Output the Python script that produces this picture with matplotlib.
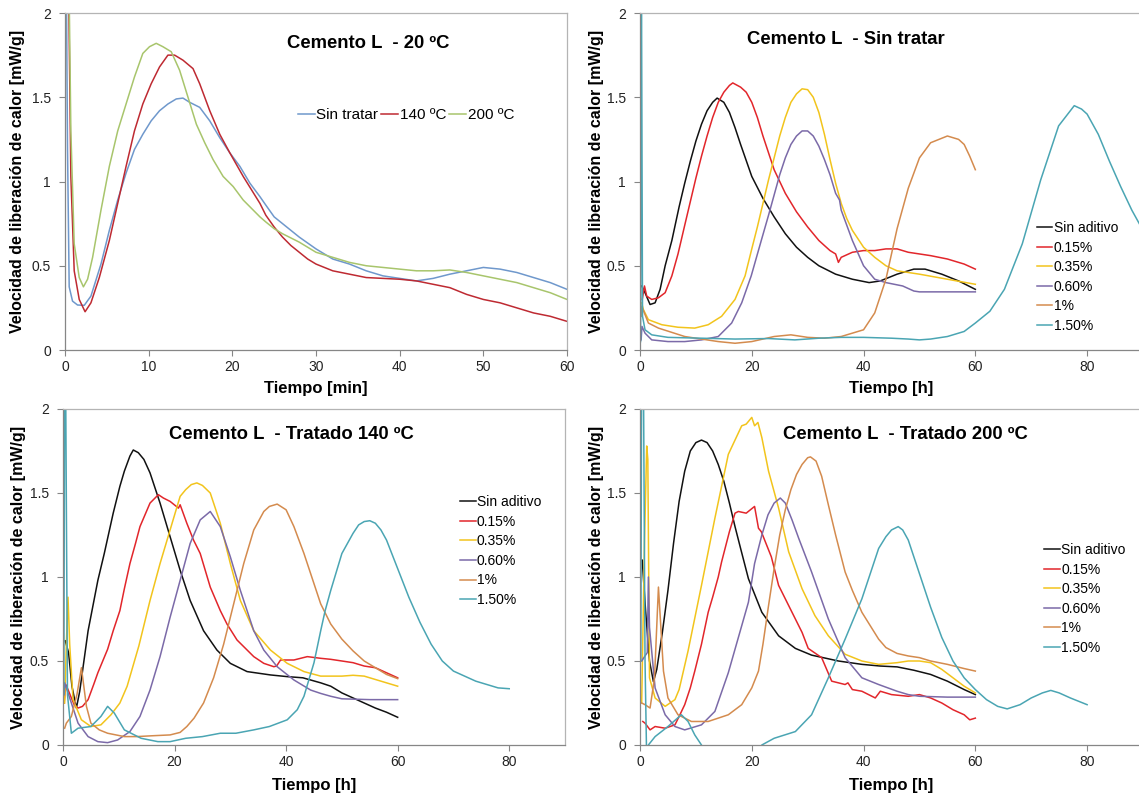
import matplotlib
matplotlib.use("Agg")
import matplotlib.pyplot as plt

plt.rcParams["font.family"] = ["Liberation Sans", "DejaVu Sans"]

# ── Data ────────────────────────────────────────────────────────────────────

YLABEL = "Velocidad de liberación de calor [mW/g]"
LABELS_DOSE = ["Sin aditivo", "0.15%", "0.35%", "0.60%", "1%", "1.50%"]
COLORS_DOSE = ["#111111", "#e2262b", "#f2c41c", "#7b6aa8", "#d48b4e", "#4aa5b3"]

# Panel 1: Cemento L - 20 ºC (tiempo en min)
P1_LABELS = ["Sin tratar", "140 ºC", "200 ºC"]
P1_COLORS = ["#6f98cc", "#be2a32", "#a8c56c"]
p1_sin_x = [0.15, 0.3, 0.5, 0.9, 1.5, 2.3, 3.1, 4.3, 5.3, 6.3, 7.3, 8.3, 9.3, 10.3, 11.3, 12.3,
            13.3, 14.1, 14.9, 16.1, 17.3, 18.5, 19.7, 20.9, 22.1, 23.3, 24, 25, 26, 28, 30, 32,
            34, 36, 38, 40, 42, 44, 46, 48, 50, 52, 54, 56, 58, 60]
p1_sin_y = [2.3, 1.2, 0.375, 0.29, 0.267, 0.265, 0.32, 0.51, 0.71, 0.89, 1.05, 1.19, 1.28, 1.36,
            1.42, 1.46, 1.49, 1.495, 1.47, 1.44, 1.36, 1.26, 1.17, 1.09, 0.99, 0.91, 0.86, 0.79,
            0.75, 0.67, 0.60, 0.54, 0.51, 0.47, 0.44, 0.425, 0.41, 0.425, 0.45, 0.47, 0.49, 0.48,
            0.46, 0.43, 0.40, 0.36]
p1_140_x = [0.2, 0.4, 0.7, 1.1, 1.7, 2.4, 3.1, 4.1, 5.3, 6.3, 7.3, 8.3, 9.3, 10.3, 11.3, 12.3,
            13.1, 14.1, 15.3, 16.1, 17.3, 18.5, 19.7, 21.3, 23.3, 24, 25, 26, 27, 28, 29, 30,
            32, 34, 36, 38, 40, 42, 44, 46, 48, 50, 52, 54, 56, 58, 60]
p1_140_y = [2.3, 2.3, 1.03, 0.47, 0.30, 0.227, 0.28, 0.43, 0.65, 0.87, 1.09, 1.30, 1.46, 1.58,
            1.68, 1.75, 1.75, 1.72, 1.67, 1.58, 1.42, 1.28, 1.17, 1.03, 0.87, 0.80, 0.73, 0.67,
            0.62, 0.58, 0.54, 0.51, 0.47, 0.45, 0.43, 0.425, 0.42, 0.41, 0.39, 0.37, 0.33, 0.30,
            0.28, 0.25, 0.22, 0.20, 0.17]
p1_200_x = [0, 0.05, 0.45, 0.7, 1.1, 1.7, 2.2, 2.7, 3.3, 4.3, 5.3, 6.3, 7.3, 8.3, 9.3, 10.1, 10.9,
            11.7, 12.7, 13.7, 14.7, 15.7, 16.7, 17.7, 18.9, 20.1, 21.3, 23.3, 24, 25, 26, 28, 30,
            32, 34, 36, 38, 40, 42, 44, 46, 48, 50, 52, 54, 56, 58, 60]
p1_200_y = [0, 2.3, 2.3, 1.3, 0.63, 0.43, 0.375, 0.42, 0.55, 0.83, 1.09, 1.30, 1.46, 1.62, 1.76,
            1.80, 1.82, 1.80, 1.77, 1.66, 1.50, 1.34, 1.23, 1.13, 1.03, 0.97, 0.89, 0.79, 0.76,
            0.72, 0.69, 0.64, 0.58, 0.55, 0.52, 0.50, 0.49, 0.48, 0.47, 0.47, 0.475, 0.46, 0.44,
            0.42, 0.40, 0.37, 0.34, 0.30]

# Panel 2: Cemento L - Sin tratar (tiempo en h)
p2_sin_x = [0.3, 0.9, 1.8, 2.7, 3.6, 4.5, 5.7, 7, 8, 9, 10, 11, 12, 13, 13.8, 15, 16, 17, 18, 20,
            22, 24, 26, 28, 30, 32, 35, 38, 41, 43, 46, 49, 51, 54, 57, 60]
p2_sin_y = [0.38, 0.34, 0.27, 0.28, 0.36, 0.50, 0.65, 0.85, 0.99, 1.12, 1.24, 1.34, 1.42, 1.47,
            1.495, 1.47, 1.41, 1.32, 1.22, 1.03, 0.90, 0.79, 0.69, 0.61, 0.55, 0.50, 0.45, 0.42,
            0.40, 0.41, 0.45, 0.48, 0.48, 0.45, 0.41, 0.36]
p2_015_x = [0.4, 0.8, 1.2, 2.1, 3.3, 4.5, 5.7, 6.8, 8, 9, 10, 11, 12, 13, 14, 15, 16, 16.6, 18, 19,
            20, 21, 22, 23, 24, 25, 26, 28, 30, 32, 34, 35, 35.5, 36, 38, 40, 42, 44, 46, 48, 50,
            52, 55, 58, 60]
p2_015_y = [0.30, 0.38, 0.32, 0.30, 0.31, 0.34, 0.44, 0.57, 0.74, 0.88, 1.02, 1.15, 1.27, 1.38,
            1.47, 1.53, 1.57, 1.585, 1.56, 1.53, 1.47, 1.38, 1.27, 1.17, 1.07, 1.00, 0.93, 0.82,
            0.73, 0.65, 0.59, 0.57, 0.52, 0.55, 0.58, 0.59, 0.59, 0.60, 0.60, 0.58, 0.57, 0.56,
            0.54, 0.51, 0.48]
p2_035_x = [0.3, 0.6, 1.5, 3.9, 6.8, 9.8, 12.2, 14.6, 17, 18.8, 20, 21, 22, 23, 24, 25, 26, 27,
            28, 29, 30, 31, 32, 33, 34, 35, 36, 37, 38, 40, 42, 44, 46, 50, 55, 60]
p2_035_y = [0.28, 0.24, 0.18, 0.15, 0.135, 0.13, 0.15, 0.20, 0.30, 0.44, 0.60, 0.73, 0.87, 1.01,
            1.14, 1.27, 1.38, 1.47, 1.52, 1.55, 1.545, 1.50, 1.41, 1.28, 1.13, 0.99, 0.87, 0.78,
            0.71, 0.61, 0.55, 0.50, 0.47, 0.45, 0.42, 0.39]
p2_060_x = [0.2, 0.35, 0.9, 2.1, 5, 8, 11, 14, 16.4, 18.2, 19.9, 21.7, 23, 24, 25, 26, 27, 28, 29,
            30, 31, 32, 33, 34, 35, 35.7, 36, 38, 40, 42, 44, 47, 49, 50, 55, 60]
p2_060_y = [0.06, 0.14, 0.10, 0.06, 0.05, 0.05, 0.06, 0.08, 0.16, 0.28, 0.44, 0.65, 0.80, 0.92,
            1.04, 1.14, 1.22, 1.27, 1.30, 1.30, 1.27, 1.21, 1.13, 1.04, 0.93, 0.89, 0.83, 0.65,
            0.50, 0.42, 0.40, 0.38, 0.35, 0.345, 0.345, 0.345]
p2_1_x = [0.2, 0.3, 1.5, 3.3, 8, 14, 17, 20, 24, 27, 30, 33, 36, 38, 40, 42, 44, 46, 48, 50, 52,
          55, 57, 58, 59, 60]
p2_1_y = [0.20, 0.26, 0.16, 0.13, 0.08, 0.05, 0.04, 0.05, 0.08, 0.09, 0.075, 0.07, 0.08, 0.10,
          0.12, 0.22, 0.42, 0.72, 0.96, 1.14, 1.23, 1.27, 1.25, 1.22, 1.15, 1.07]
p2_150_x = [0.1, 0.25, 0.45, 0.9, 2.1, 5, 11, 17, 23, 27.7, 32, 36, 40, 45, 48, 50, 52, 55, 58,
            60, 62.6, 65.2, 68.4, 71.7, 74.9, 77.7, 79, 80, 82, 84, 86, 88, 90]
p2_150_y = [0.05, 2.3, 0.2, 0.12, 0.09, 0.075, 0.07, 0.065, 0.068, 0.06, 0.07, 0.075, 0.075,
            0.07, 0.065, 0.06, 0.065, 0.08, 0.11, 0.16, 0.23, 0.36, 0.63, 1.01, 1.33, 1.45, 1.43,
            1.40, 1.28, 1.12, 0.97, 0.83, 0.71]

# Panel 3: Cemento L - Tratado 140 ºC
p3_sin_x = [0.4, 1.0, 1.6, 2.4, 3, 4.5, 6.25, 7.4, 8, 9, 10.2, 11, 12, 12.6, 13.5, 14.5, 15.6,
            17.4, 19.2, 21, 22.8, 25.2, 27.6, 30, 33, 37.2, 40.2, 43, 46.2, 48, 50, 52, 54, 56,
            58, 60]
p3_sin_y = [0.62, 0.55, 0.35, 0.22, 0.32, 0.68, 0.98, 1.14, 1.23, 1.38, 1.54, 1.63, 1.72, 1.756,
            1.74, 1.70, 1.62, 1.44, 1.24, 1.04, 0.86, 0.68, 0.565, 0.486, 0.437, 0.417, 0.407,
            0.40, 0.37, 0.35, 0.31, 0.28, 0.25, 0.22, 0.195, 0.165]
p3_015_x = [0.2, 0.5, 0.9, 1.5, 2, 2.7, 3.5, 4.5, 5.5, 6.25, 7, 8, 9, 10.2, 11, 12, 13, 13.8,
            15.6, 17.1, 18, 19.2, 20.7, 21, 22.2, 23.4, 24.6, 26.4, 28.2, 29.4, 31.2, 34.2, 36,
            37.8, 38.3, 39, 41.4, 43.8, 46.2, 48, 50, 52, 54, 56, 58, 60]
p3_015_y = [0.25, 0.36, 0.33, 0.28, 0.24, 0.22, 0.23, 0.27, 0.36, 0.43, 0.49, 0.57, 0.68, 0.80,
            0.93, 1.08, 1.20, 1.30, 1.44, 1.49, 1.47, 1.45, 1.41, 1.43, 1.32, 1.22, 1.14, 0.94,
            0.80, 0.72, 0.625, 0.526, 0.486, 0.466, 0.47, 0.506, 0.506, 0.526, 0.516, 0.51,
            0.50, 0.49, 0.47, 0.46, 0.43, 0.40]
p3_035_x = [0.3, 0.6, 0.9, 1.2, 1.8, 3.3, 5, 6.8, 8.6, 10.2, 11.5, 13.6, 15.6, 17.4, 19.2, 21, 22,
            23, 24, 25, 26.4, 28.2, 30, 31.8, 34.2, 37.2, 40.2, 43.2, 46.2, 48, 50, 52, 54, 56,
            58, 60]
p3_035_y = [0.25, 0.6, 0.88, 0.6, 0.27, 0.15, 0.11, 0.12, 0.18, 0.25, 0.35, 0.59, 0.86, 1.08,
            1.28, 1.48, 1.52, 1.55, 1.56, 1.545, 1.50, 1.32, 1.08, 0.86, 0.68, 0.565, 0.486,
            0.437, 0.41, 0.41, 0.41, 0.415, 0.41, 0.39, 0.37, 0.35]
p3_060_x = [0.2, 0.3, 1.5, 2.7, 4.5, 6.25, 8, 9.8, 12, 13.8, 15.6, 17.4, 19.2, 21, 22.8, 24.6,
            26.4, 28.2, 30, 31.8, 34.2, 36, 38.4, 41.4, 44.4, 46.2, 48, 50, 55, 60]
p3_060_y = [0.30, 0.37, 0.25, 0.13, 0.05, 0.02, 0.014, 0.03, 0.08, 0.17, 0.327, 0.526, 0.76,
            0.98, 1.20, 1.34, 1.39, 1.30, 1.12, 0.92, 0.68, 0.565, 0.466, 0.387, 0.327, 0.307,
            0.29, 0.275, 0.27, 0.27]
p3_1_x = [0.3, 0.6, 1.5, 2.5, 3.3, 4.2, 5, 6.5, 8, 11, 13.2, 16, 19.2, 21, 22.2, 23.5, 25.2, 27,
          28.8, 30.6, 32.4, 34.2, 36, 37, 38.4, 40, 41.4, 43.2, 45, 46.2, 48, 50, 52, 54, 56,
          58, 60]
p3_1_y = [0.10, 0.13, 0.17, 0.30, 0.46, 0.23, 0.13, 0.09, 0.07, 0.05, 0.05, 0.055, 0.06, 0.075,
          0.11, 0.16, 0.25, 0.40, 0.60, 0.84, 1.08, 1.28, 1.39, 1.42, 1.434, 1.40, 1.30, 1.14,
          0.96, 0.84, 0.72, 0.63, 0.56, 0.50, 0.46, 0.42, 0.395]
p3_150_x = [0.15, 0.3, 0.45, 0.8, 1.5, 2.7, 5, 6.8, 8, 9.2, 11, 14, 17, 19.2, 22, 25, 28.2, 31,
            34.2, 37, 40.2, 42, 43.2, 45, 46.2, 47, 48, 50, 52, 53, 54, 55, 56, 57, 58, 60, 62,
            64, 66, 68, 70, 72, 74, 75, 78, 80]
p3_150_y = [0.30, 2.3, 2.3, 0.30, 0.07, 0.10, 0.11, 0.17, 0.23, 0.19, 0.09, 0.04, 0.02, 0.02,
            0.04, 0.05, 0.07, 0.07, 0.09, 0.11, 0.15, 0.21, 0.29, 0.49, 0.68, 0.80, 0.92, 1.14,
            1.26, 1.31, 1.33, 1.335, 1.32, 1.28, 1.22, 1.05, 0.88, 0.73, 0.60, 0.50, 0.44, 0.41,
            0.38, 0.37, 0.34, 0.335]

# Panel 4: Cemento L - Tratado 200 ºC
p4_sin_x = [0.4, 1.0, 1.7, 2.4, 3, 4, 5, 6, 7, 8, 9, 10, 11, 12, 13, 14, 15, 16, 17, 18, 19.4,
            21.8, 24.8, 27.8, 30.7, 35.5, 39.7, 43, 46, 49, 52, 55, 58, 60]
p4_sin_y = [1.10, 0.80, 0.50, 0.377, 0.45, 0.67, 0.92, 1.20, 1.45, 1.63, 1.75, 1.80, 1.815,
            1.80, 1.75, 1.67, 1.57, 1.44, 1.30, 1.17, 0.99, 0.79, 0.65, 0.575, 0.535, 0.50, 0.48,
            0.47, 0.465, 0.445, 0.42, 0.38, 0.33, 0.30]
p4_015_x = [0.5, 0.9, 1.8, 2.7, 4.5, 6.25, 7, 8, 9, 9.8, 11, 12.2, 13, 14, 14.6, 16, 17, 17.6,
            19, 20.5, 21.2, 21.7, 23.5, 24.8, 26.6, 29, 30.1, 32.5, 34.3, 36.7, 37.2, 38, 39.7,
            42.1, 43, 45, 48, 50, 52, 54, 56, 58, 59, 60]
p4_015_y = [0.14, 0.13, 0.09, 0.11, 0.10, 0.12, 0.17, 0.24, 0.34, 0.44, 0.60, 0.79, 0.88, 1.00,
            1.09, 1.27, 1.38, 1.39, 1.38, 1.42, 1.29, 1.27, 1.12, 0.95, 0.83, 0.67, 0.575, 0.52,
            0.38, 0.36, 0.37, 0.33, 0.32, 0.28, 0.32, 0.30, 0.29, 0.30, 0.28, 0.25, 0.21, 0.18,
            0.15, 0.16]
p4_035_x = [0.3, 0.8, 1.2, 1.4, 1.7, 2.7, 4.5, 6.25, 7, 8.6, 11, 13.4, 15.8, 18.2, 19, 20, 20.5,
            21.1, 21.8, 23, 24.8, 26.6, 29, 31.3, 33.7, 36.7, 39.7, 42.7, 46, 48, 50, 52, 54, 56,
            58, 60]
p4_035_y = [0.25, 1.2, 1.78, 1.7, 0.4, 0.28, 0.23, 0.27, 0.33, 0.56, 0.95, 1.35, 1.73, 1.90,
            1.91, 1.95, 1.90, 1.92, 1.83, 1.63, 1.41, 1.15, 0.93, 0.77, 0.65, 0.54, 0.50, 0.48,
            0.49, 0.50, 0.50, 0.49, 0.45, 0.40, 0.35, 0.31]
p4_060_x = [0.3, 1.3, 1.5, 1.7, 2.7, 4.5, 6.25, 8, 11, 13.4, 15.8, 18.2, 19.4, 20.5, 21.8, 22.9,
            24, 25.1, 26, 27.2, 28.4, 30.7, 33.7, 36.7, 39.7, 42.7, 46, 48, 50, 55, 60]
p4_060_y = [0.50, 0.55, 1.0, 0.70, 0.34, 0.18, 0.11, 0.09, 0.12, 0.20, 0.43, 0.71, 0.85, 1.08,
            1.25, 1.37, 1.44, 1.47, 1.44, 1.34, 1.23, 1.03, 0.75, 0.52, 0.40, 0.36, 0.32, 0.30,
            0.29, 0.285, 0.285]
p4_1_x = [0.3, 0.9, 1.8, 2.6, 3.3, 4.2, 5, 6.8, 9.2, 12.2, 15.8, 18.2, 20, 21.2, 22, 23, 24, 25,
          26, 27, 28, 29, 30, 30.5, 31.5, 32.5, 33.7, 35, 36.7, 38, 39.7, 42.7, 44, 46, 48, 50,
          52, 55, 58, 60]
p4_1_y = [0.25, 0.24, 0.22, 0.40, 0.94, 0.44, 0.28, 0.18, 0.14, 0.14, 0.18, 0.24, 0.34, 0.44,
          0.60, 0.83, 1.05, 1.25, 1.40, 1.52, 1.61, 1.67, 1.71, 1.715, 1.69, 1.60, 1.43, 1.25,
          1.03, 0.92, 0.79, 0.63, 0.58, 0.545, 0.53, 0.52, 0.50, 0.48, 0.455, 0.44]
p4_150_x = [0.15, 0.3, 0.6, 0.9, 1.2, 1.5, 2.7, 5, 7.4, 8.6, 9.8, 11, 12, 20, 21.8, 24, 27.8,
            30.7, 33.7, 36.7, 39.7, 42.7, 44, 45, 46.2, 47, 48, 49, 50, 52, 54, 56, 58, 60, 62,
            64, 65.7, 68, 70, 72, 73.5, 75, 77, 80]
p4_150_y = [0.5, 2.3, 2.3, 0.5, -0.1, 0.0, 0.05, 0.11, 0.18, 0.14, 0.06, 0.0, -0.1, -0.1, 0.0,
            0.04, 0.08, 0.18, 0.40, 0.63, 0.87, 1.17, 1.24, 1.28, 1.30, 1.28, 1.22, 1.12, 1.02,
            0.82, 0.64, 0.50, 0.40, 0.33, 0.27, 0.23, 0.215, 0.24, 0.28, 0.31, 0.325, 0.31, 0.28,
            0.24]


# ── Layout (pixel boxes from the reference, 1139 x 798) ──────────────────────

W, H = 1139, 798


def box(left, top, right, bottom):
    return [left / W, 1 - bottom / H, (right - left) / W, (bottom - top) / H]


def style(ax, xmax, xstep, xlabel, ylab_x, xlab_y):
    ax.set_xlim(0, xmax)
    ax.set_ylim(0, 2)
    ax.set_xticks(range(0, xmax + 1 if xmax == 60 else 81, xstep))
    ax.set_yticks([0, 0.5, 1, 1.5, 2])
    ax.set_yticklabels(["0", "0.5", "1", "1.5", "2"])
    for side in ("left", "bottom"):
        ax.spines[side].set_color("#868686")
        ax.spines[side].set_linewidth(0.9)
    for side in ("top", "right"):
        ax.spines[side].set_color("#b4b4b4")
        ax.spines[side].set_linewidth(0.9)
    ax.tick_params(axis="both", direction="out", length=4, width=0.8,
                   color="#868686", labelsize=10, labelcolor="#222222")
    ax.tick_params(axis="y", pad=6)
    ax.tick_params(axis="x", pad=3.5)
    ax.set_ylabel(YLABEL, fontsize=11.5, fontweight="bold", va="center")
    ax.set_xlabel(xlabel, fontsize=12, fontweight="bold", va="center")
    ax.yaxis.set_label_coords(ylab_x, 0.5)
    ax.xaxis.set_label_coords(0.5, xlab_y)


def legend(ax, x, y, fs, ncol=1):
    ax.legend(loc="center left", bbox_to_anchor=(x, y), ncol=ncol, frameon=False,
              fontsize=fs, handlelength=1.12, handletextpad=0.08, borderpad=0,
              borderaxespad=0, labelspacing=0.4, columnspacing=0.2)


fig = plt.figure(figsize=(W / 100, H / 100), dpi=100)
LW = 1.1

# Panel 1
ax1 = fig.add_axes(box(65, 13, 567, 350))
for xs, ys, lab, col in [(p1_sin_x, p1_sin_y, P1_LABELS[0], P1_COLORS[0]),
                         (p1_140_x, p1_140_y, P1_LABELS[1], P1_COLORS[1]),
                         (p1_200_x, p1_200_y, P1_LABELS[2], P1_COLORS[2])]:
    ax1.plot(xs, ys, color=col, lw=LW, label=lab)
style(ax1, 60, 10, "Tiempo [min]", -0.094, -0.113)
ax1.text(0.604, 0.91, "Cemento L  - 20 ºC", transform=ax1.transAxes,
         ha="center", va="center", fontsize=13.3, fontweight="bold")
legend(ax1, 0.464, 0.697, 11, ncol=3)

# Panels 2-4
panels = [
    (box(640, 13, 1143, 350), "Cemento L  - Sin tratar", (0.4085, 0.922), (0.789, 0.217), -0.113,
     [(p2_sin_x, p2_sin_y), (p2_015_x, p2_015_y), (p2_035_x, p2_035_y),
      (p2_060_x, p2_060_y), (p2_1_x, p2_1_y), (p2_150_x, p2_150_y)]),
    (box(63, 409, 565, 745), "Cemento L  - Tratado 140 ºC", (0.456, 0.925), (0.791, 0.577), -0.122,
     [(p3_sin_x, p3_sin_y), (p3_015_x, p3_015_y), (p3_035_x, p3_035_y),
      (p3_060_x, p3_060_y), (p3_1_x, p3_1_y), (p3_150_x, p3_150_y)]),
    (box(640, 409, 1143, 745), "Cemento L  - Tratado 200 ºC", (0.527, 0.925), (0.804, 0.4345), -0.122,
     [(p4_sin_x, p4_sin_y), (p4_015_x, p4_015_y), (p4_035_x, p4_035_y),
      (p4_060_x, p4_060_y), (p4_1_x, p4_1_y), (p4_150_x, p4_150_y)]),
]

for i, (rect, title, tpos, lpos, xlab_y, series) in enumerate(panels):
    ax = fig.add_axes(rect)
    for (xs, ys), lab, col in zip(series, LABELS_DOSE, COLORS_DOSE):
        ax.plot(xs, ys, color=col, lw=LW, label=lab)
    ylab_x = -0.0896 if i == 1 else -0.0855
    style(ax, 90, 20, "Tiempo [h]", ylab_x, xlab_y)
    ax.text(tpos[0], tpos[1], title, transform=ax.transAxes,
            ha="center", va="center", fontsize=13.3, fontweight="bold")
    legend(ax, lpos[0], lpos[1], 10)

fig.savefig("out.png", dpi=100)
